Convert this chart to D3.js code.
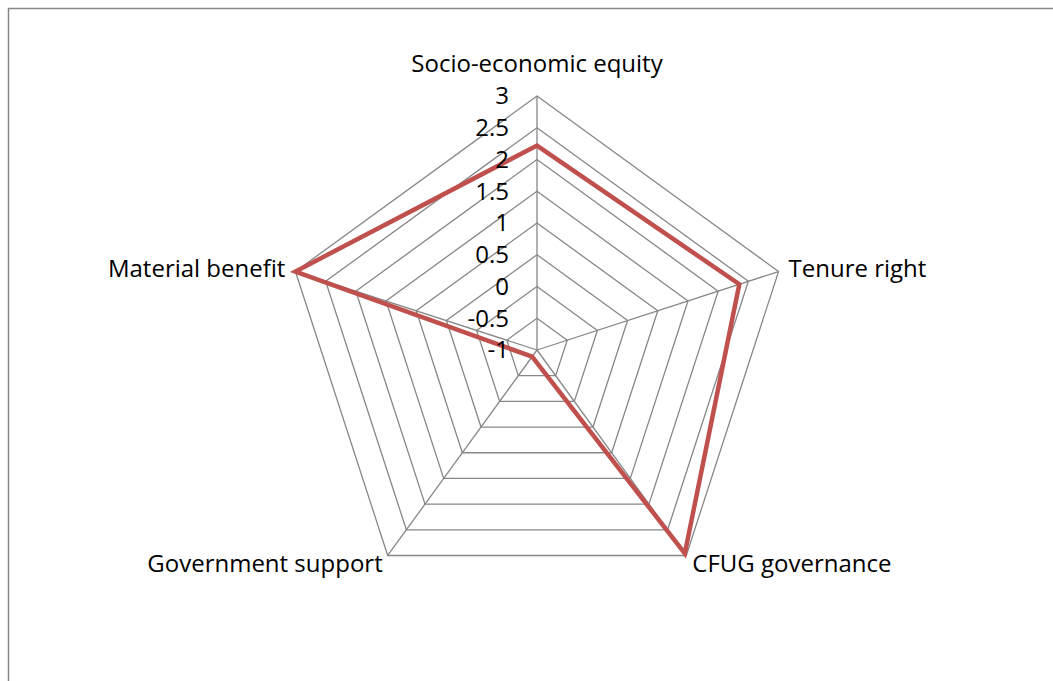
<!DOCTYPE html>
<html>
<head>
<meta charset="utf-8">
<script src="https://cdn.jsdelivr.net/npm/d3@7"></script>
<style>
  html, body { margin: 0; padding: 0; background: #fff; }
  svg { display: block; }
  text { font-family: "Open Sans", Lato, sans-serif; fill: #000; }
</style>
</head>
<body>
<svg id="chart" width="1053" height="681"></svg>
<script>
// Radar chart data
const categories = ["Socio-economic equity", "Tenure right", "CFUG governance", "Government support", "Material benefit"];
const values = [2.22, 2.35, 2.96, -0.87, 3.0];
const tickValues = [-1, -0.5, 0, 0.5, 1, 1.5, 2, 2.5, 3];
const tickLabels = ["-1", "-0.5", "0", "0.5", "1", "1.5", "2", "2.5", "3"];

const svg = d3.select("#chart");
const cx = 537, cy = 350, R = 254;
const fontSize = 24;

// Outer chart frame
svg.append("rect")
  .attr("x", 8.5).attr("y", 8.5)
  .attr("width", 1100).attr("height", 700)
  .attr("fill", "none").attr("stroke", "#878787").attr("stroke-width", 1.5);

const r = d3.scaleLinear().domain([-1, 3]).range([0, R]);
const n = categories.length;
const angle = i => (i / n) * 2 * Math.PI;
const pt = (i, v) => [cx + r(v) * Math.sin(angle(i)), cy - r(v) * Math.cos(angle(i))];

const g = svg.append("g");

// Concentric pentagon gridlines
g.selectAll("path.ring")
  .data(tickValues.slice(1))
  .enter().append("path")
  .attr("class", "ring")
  .attr("d", v => d3.line()(d3.range(n).map(i => pt(i, v))) + "Z")
  .attr("fill", "none").attr("stroke", "#878787").attr("stroke-width", 1.3);

// Spokes
g.selectAll("line.spoke")
  .data(d3.range(n))
  .enter().append("line")
  .attr("class", "spoke")
  .attr("x1", cx).attr("y1", cy)
  .attr("x2", i => pt(i, 3)[0]).attr("y2", i => pt(i, 3)[1])
  .attr("stroke", "#878787").attr("stroke-width", 1.3);

// Data polygon
g.append("path")
  .attr("d", d3.line()(values.map((v, i) => pt(i, v))) + "Z")
  .attr("fill", "none").attr("stroke", "#C0504D").attr("stroke-width", 4.5)
  .attr("stroke-linejoin", "miter");

// Value axis tick labels
g.selectAll("text.tick")
  .data(tickValues)
  .enter().append("text")
  .attr("class", "tick")
  .attr("x", cx - 28)
  .attr("y", v => cy - r(v))
  .attr("dy", "0.35em")
  .attr("text-anchor", "end")
  .attr("font-size", fontSize)
  .text((v, i) => tickLabels[i]);

// Category labels
const labelPos = [
  { dx: 0, dy: -32, anchor: "middle" },
  { dx: 10, dy: -3, anchor: "start" },
  { dx: 6, dy: 8, anchor: "start" },
  { dx: -5, dy: 8, anchor: "end" },
  { dx: -10, dy: -3, anchor: "end" }
];
g.selectAll("text.cat")
  .data(categories)
  .enter().append("text")
  .attr("class", "cat")
  .attr("x", (c, i) => pt(i, 3)[0] + labelPos[i].dx)
  .attr("y", (c, i) => pt(i, 3)[1] + labelPos[i].dy)
  .attr("dy", "0.35em")
  .attr("text-anchor", (c, i) => labelPos[i].anchor)
  .attr("font-size", fontSize)
  .text(c => c);
</script>
</body>
</html>
